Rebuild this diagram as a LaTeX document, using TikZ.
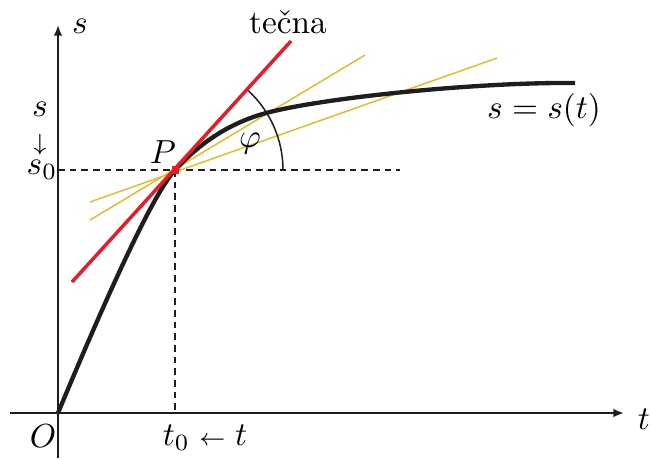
\documentclass[tikz,border=0pt]{standalone}
\usetikzlibrary{arrows.meta,calc}
\definecolor{tred}{RGB}{228,30,38}
\definecolor{tyel}{RGB}{234,185,45}
\definecolor{tblk}{RGB}{30,30,30}
\begin{document}
\begin{tikzpicture}[x=0.3pt,y=0.3pt,
  axis/.style={line width=0.6pt,tblk,-{Latex[length=3.2pt,width=2.6pt]}},
  guide/.style={line width=0.5pt,tblk,dash pattern=on 2pt off 1.5pt},
  curve/.style={line width=1.3pt,tblk},
  tangent/.style={line width=1.05pt,tred},
  secant/.style={line width=0.45pt,tyel},
  lbl/.style={inner sep=0pt,anchor=base}]
\useasboundingbox (0,0) rectangle (651,459);
% named points
\coordinate (O) at (58,46);
\coordinate (P) at (175,289);
\coordinate (ybot) at (58,1);
\coordinate (ytop) at (58,434);
\coordinate (xl) at (10,46);
\coordinate (xr) at (624,46);
\coordinate (hend) at (400,289);
\coordinate (s0) at (58,289);
\coordinate (t0) at (175,46);
\coordinate (ra) at (72,177);
\coordinate (rb) at (291,418);
\coordinate (ya) at (90,239);
\coordinate (yb) at (365,404);
\coordinate (za) at (90,257);
\coordinate (zb) at (497,401);
\coordinate (A) at (270,347);
\coordinate (E) at (575,376);
% axes
\draw[axis] (ybot) -- (ytop);
\draw[axis] (xl) -- (xr);
% dashed guides
\draw[guide] (s0) -- (hend);
\draw[guide] (P) -- (t0);
% secants
\draw[secant] (ya) -- (yb);
\draw[secant] (za) -- (zb);
% angle arc
\draw[line width=0.45pt,tblk] ($(P)+(108,0)$) arc[start angle=0,end angle=47.5,radius=108];
% curve
\draw[curve] (O) .. controls (95,135) and (150,262) .. (P)
  .. controls (200,316) and (230,337) .. (A)
  .. controls (330,362) and (480,377) .. (E);
% tangent
\draw[tangent] (ra) -- (rb);
\fill[tred] ($(P)+(-3.5,-3.5)$) rectangle ($(P)+(4,4)$);
% labels
\node[lbl] (ls) at (80,426) {$s$};
\node[lbl] (lt) at (644,30) {$t$};
\node[lbl] (lO) at (43,12) {$O$};
\node[lbl] (lt0) at (205,14) {$t_0\;{\scriptstyle\leftarrow}\;t$};
\node[lbl] (lP) at (163,296) {$P$};
\node[lbl] (lphi) at (250,312) {$\varphi$};
\node[lbl] (ltec) at (288,426) {te\v{c}na};
\node[lbl] (lss) at (544,341) {$s=s(t)$};
\node[lbl] (lsa) at (40,343) {$s$};
\node[inner sep=0pt] (ldown) at (40,314) {$\scriptstyle\downarrow$};
\node[lbl] (ls0) at (42,285) {$s_0$};
\end{tikzpicture}
\end{document}
